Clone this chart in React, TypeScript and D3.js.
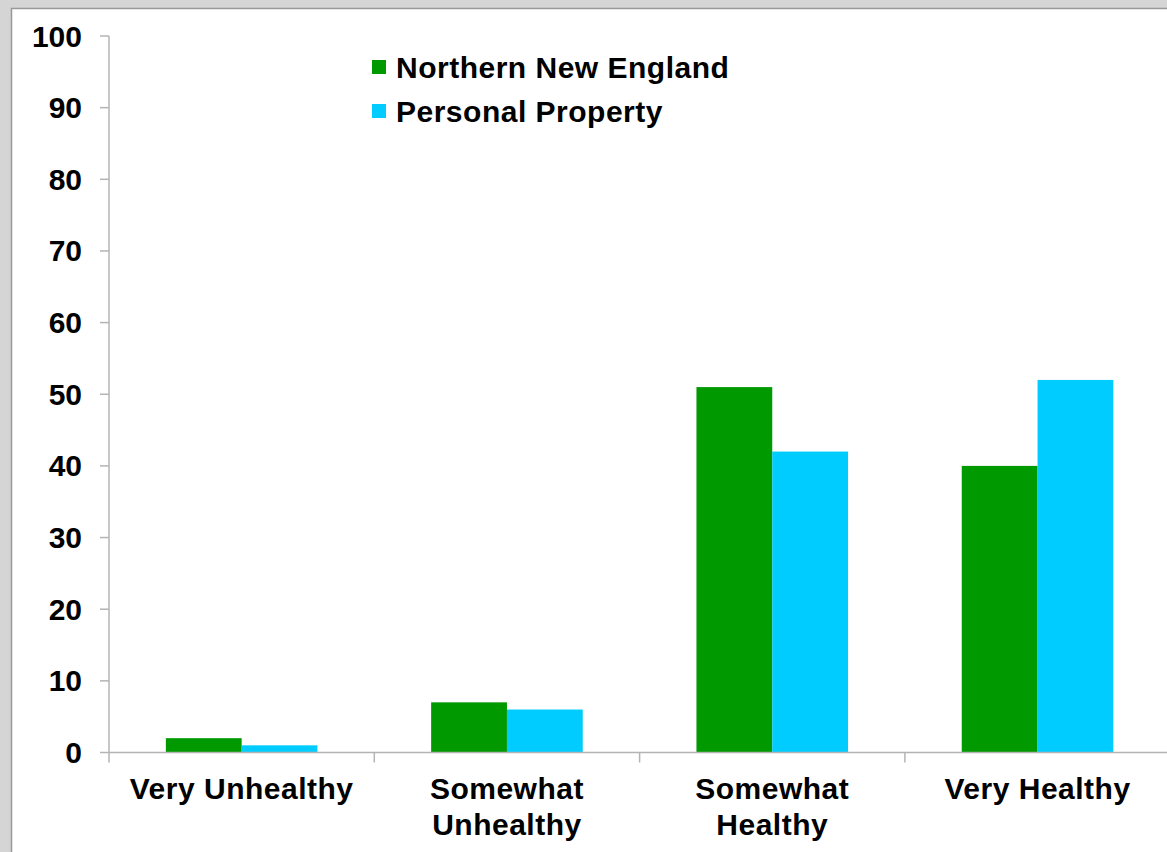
import { useEffect, useRef } from 'react';
import * as d3 from 'd3';

const categories = ['Very Unhealthy', 'Somewhat Unhealthy', 'Somewhat Healthy', 'Very Healthy'];
const categoryLines = [['Very Unhealthy'], ['Somewhat', 'Unhealthy'], ['Somewhat', 'Healthy'], ['Very Healthy']];
const seriesNames = ['Northern New England', 'Personal Property'];
const northernNewEngland = [2, 7, 51, 40];
const personalProperty = [1, 6, 42, 52];
const seriesColors = ['#009900', '#00ccff'];
const yTicks = [0, 10, 20, 30, 40, 50, 60, 70, 80, 90, 100];

const W = 1167;
const H = 852;
const FONT = '"Liberation Sans", Arial, sans-serif';

export default function App() {
  const svgRef = useRef<SVGSVGElement>(null);

  useEffect(() => {
    if (!svgRef.current) return;
    const svg = d3.select(svgRef.current);
    svg.selectAll('*').remove();

    // window-like backdrop
    svg.append('rect').attr('width', W).attr('height', H).attr('fill', '#d5d5d5');
    svg.append('rect')
      .attr('x', 11.5).attr('y', 8.5)
      .attr('width', W).attr('height', H)
      .attr('fill', '#ffffff')
      .attr('stroke', '#999999')
      .attr('stroke-width', 1.5);

    const left = 109;
    const step = 265.3;
    const x0 = d3.scaleBand<string>()
      .domain(categories)
      .range([left, left + step * categories.length]);
    const x1 = d3.scaleBand<string>()
      .domain(seriesNames)
      .range([0, x0.bandwidth()])
      .paddingOuter(0.75);
    const y = d3.scaleLinear().domain([0, 100]).range([752.5, 36]);

    const values = [northernNewEngland, personalProperty];
    const axisColor = '#b4b4b4';

    // bars
    seriesNames.forEach((s, si) => {
      svg.append('g')
        .selectAll('rect')
        .data(values[si])
        .enter()
        .append('rect')
        .attr('x', (_, i) => (x0(categories[i]) ?? 0) + (x1(s) ?? 0))
        .attr('y', d => y(d))
        .attr('width', x1.bandwidth())
        .attr('height', d => y(0) - y(d))
        .attr('fill', seriesColors[si]);
    });

    // y axis
    svg.append('line')
      .attr('x1', left).attr('x2', left)
      .attr('y1', y(100)).attr('y2', y(0) + 10)
      .attr('stroke', axisColor).attr('stroke-width', 1.5);
    const yg = svg.append('g');
    yTicks.forEach(t => {
      yg.append('line')
        .attr('x1', left - 9).attr('x2', left)
        .attr('y1', y(t)).attr('y2', y(t))
        .attr('stroke', axisColor).attr('stroke-width', 1.5);
      yg.append('text')
        .attr('x', 82)
        .attr('y', y(t))
        .attr('dy', '0.35em')
        .attr('text-anchor', 'end')
        .attr('font-family', FONT)
        .attr('font-weight', 'bold')
        .attr('font-size', 30)
        .attr('fill', '#000')
        .text(t);
    });

    // x axis
    svg.append('line')
      .attr('x1', left).attr('x2', W)
      .attr('y1', y(0)).attr('y2', y(0))
      .attr('stroke', axisColor).attr('stroke-width', 1.5);
    categories.forEach((c, i) => {
      const bx = x0(c) ?? 0;
      if (i > 0) {
        svg.append('line')
          .attr('x1', bx).attr('x2', bx)
          .attr('y1', y(0)).attr('y2', y(0) + 10)
          .attr('stroke', axisColor).attr('stroke-width', 1.5);
      }
      const t = svg.append('text')
        .attr('text-anchor', 'middle')
        .attr('font-family', FONT)
        .attr('font-weight', 'bold')
        .attr('font-size', 30)
        .attr('letter-spacing', 0.5)
        .attr('fill', '#000');
      categoryLines[i].forEach((ln, li) => {
        t.append('tspan')
          .attr('x', bx + x0.bandwidth() / 2)
          .attr('y', 799 + li * 36)
          .text(ln);
      });
    });

    // legend
    seriesNames.forEach((s, si) => {
      const ly = 67 + si * 44;
      svg.append('rect')
        .attr('x', 372).attr('y', ly - 7)
        .attr('width', 14).attr('height', 14)
        .attr('fill', seriesColors[si]);
      svg.append('text')
        .attr('x', 396)
        .attr('y', ly)
        .attr('dy', '0.35em')
        .attr('font-family', FONT)
        .attr('font-weight', 'bold')
        .attr('font-size', 30)
        .attr('letter-spacing', 0.5)
        .attr('fill', '#000')
        .text(s);
    });
  }, []);

  return (
    <div style={{ position: 'fixed', left: 0, top: 0, width: W, height: H }}>
      <svg ref={svgRef} width={W} height={H} style={{ display: 'block' }} />
    </div>
  );
}
